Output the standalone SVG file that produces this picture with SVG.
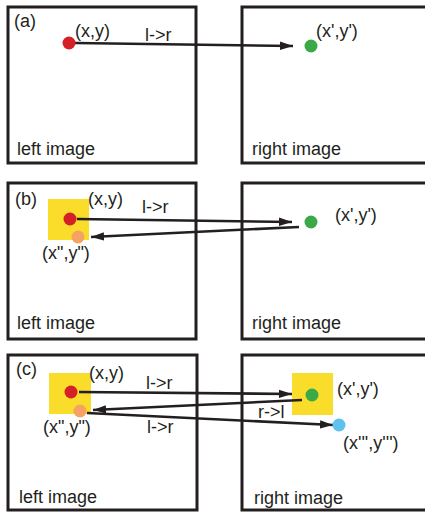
<svg xmlns="http://www.w3.org/2000/svg" width="425" height="513" viewBox="0 0 425 513">
  <style>
    .frame { fill: #ffffff; stroke: #231f20; stroke-width: 3; }
    .win { fill: #fadc2a; }
    .txt { font-family: "Liberation Sans", Arial, sans-serif; font-size: 18px; fill: #231f20; }
    .link { stroke: #231f20; stroke-width: 2.6; fill: none; marker-end: url(#head); }
    .red { fill: #d62027; }
    .green { fill: #3aaa49; }
    .orange { fill: #f5a263; }
    .blue { fill: #5ec2ee; }
  </style>
  <defs>
    <marker id="head" markerUnits="userSpaceOnUse" markerWidth="14" markerHeight="10" refX="13" refY="5" orient="auto">
      <path d="M0,0.8 L13,5 L0,9.2 Z" fill="#231f20"/>
    </marker>
  </defs>

  <!-- (a) direct match left to right -->
  <g id="panel-a">
    <rect id="a-left" class="frame" x="8" y="7" width="188" height="156"/>
    <rect id="a-right" class="frame" x="242" y="7" width="190" height="156"/>
    <text class="txt" x="14" y="27">(a)</text>
    <text class="txt" x="17" y="155">left image</text>
    <text class="txt" x="252" y="155">right image</text>
    <text class="txt" x="75" y="37">(x,y)</text>
    <text class="txt" x="316" y="37">(x',y')</text>
    <text class="txt" x="145" y="41">l-&gt;r</text>
  </g>

  <!-- (b) match back right to left -->
  <g id="panel-b">
    <rect id="b-left" class="frame" x="8" y="183" width="188" height="156"/>
    <rect id="b-right" class="frame" x="242" y="183" width="190" height="156"/>
    <rect id="b-win" class="win" x="48" y="199" width="41" height="41"/>
    <text class="txt" x="15" y="205">(b)</text>
    <text class="txt" x="17" y="329">left image</text>
    <text class="txt" x="252" y="329">right image</text>
    <text class="txt" x="88" y="205">(x,y)</text>
    <text class="txt" x="335" y="221">(x',y')</text>
    <text class="txt" x="42" y="259">(x",y")</text>
    <text class="txt" x="142" y="213">l-&gt;r</text>
  </g>

  <!-- (c) second pass left to right -->
  <g id="panel-c">
    <rect id="c-left" class="frame" x="8" y="355" width="189" height="155"/>
    <rect id="c-right" class="frame" x="242" y="355" width="190" height="155"/>
    <rect id="c-win-left" class="win" x="49" y="373" width="42" height="41"/>
    <rect id="c-win-right" class="win" x="292" y="373" width="41" height="42"/>
    <text class="txt" x="16" y="375">(c)</text>
    <text class="txt" x="19" y="503">left image</text>
    <text class="txt" x="254" y="504">right image</text>
    <text class="txt" x="89" y="379">(x,y)</text>
    <text class="txt" x="337" y="395">(x',y')</text>
    <text class="txt" x="43" y="433">(x",y")</text>
    <text class="txt" x="343" y="449">(x''',y''')</text>
    <text class="txt" x="146" y="389">l-&gt;r</text>
    <text class="txt" x="258" y="418">r-&gt;l</text>
    <text class="txt" x="147" y="433">l-&gt;r</text>
  </g>

  <g id="connectors">
    <line class="link" x1="75" y1="43" x2="293" y2="46"/>
    <line class="link" x1="77" y1="219" x2="292" y2="222"/>
    <line class="link" x1="299" y1="227" x2="91" y2="237"/>
    <line class="link" x1="79" y1="392" x2="292" y2="394"/>
    <line class="link" x1="302" y1="400" x2="93" y2="410"/>
    <line class="link" x1="87" y1="413" x2="333" y2="425"/>
  </g>

  <!-- points drawn over the connector ends -->
  <g id="points">
    <circle id="a-p" class="red" cx="69" cy="43" r="6.5"/>
    <circle id="a-q" class="green" cx="311" cy="46" r="6.5"/>
    <circle id="b-p" class="red" cx="70" cy="219" r="6.5"/>
    <circle id="b-r" class="orange" cx="78" cy="237" r="6.5"/>
    <circle id="b-q" class="green" cx="311" cy="222" r="6.5"/>
    <circle id="c-p" class="red" cx="71" cy="392" r="6.5"/>
    <circle id="c-r" class="orange" cx="80" cy="411" r="6.5"/>
    <circle id="c-q" class="green" cx="312" cy="395" r="6.5"/>
    <circle id="c-s" class="blue" cx="339" cy="425" r="6.5"/>
  </g>
</svg>
